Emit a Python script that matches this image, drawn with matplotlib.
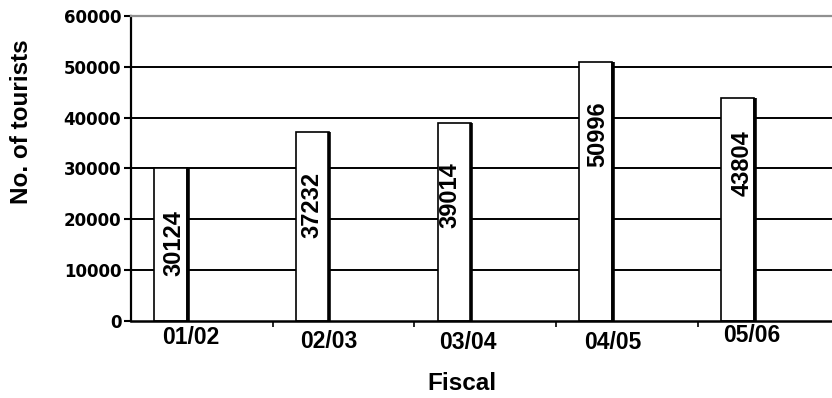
import matplotlib
matplotlib.use("Agg")
import matplotlib.pyplot as plt

# tourist arrivals per fiscal year
fiscal = ["01/02", "02/03", "03/04", "04/05", "05/06"]
tourists = [30124, 37232, 39014, 50996, 43804]
y_ticks = [0, 10000, 20000, 30000, 40000, 50000, 60000]

# label nudges in pixels (layout only)
tick_dx = [-11, -15, -17, -14, -17]
tick_dy = [-17, -21, -22, -22, -15]
val_dx = [3, 0, -4, 2, 5]
val_dy = [-42, -40, -40, -40, -32]

arial = "Liberation Sans"
dpi = 100
fig = plt.figure(figsize=(8.32, 3.98), dpi=dpi)
ax = fig.add_axes([131 / 832, 1 - 320.7 / 398, 708.5 / 832, (320.7 - 16) / 398])

xs = list(range(len(fiscal)))
bar_off = -0.22
bar_w = 0.233

ax.set_xlim(-0.5, len(fiscal) - 0.5)
ax.set_ylim(0, 60000)

# horizontal grid lines behind the bars
for v in y_ticks[1:-1]:
    ax.axhline(v, color="black", lw=1.4, zorder=1)

bx = [x + bar_off for x in xs]
ax.bar(bx, tourists, width=bar_w, color="white", edgecolor="black",
       linewidth=1.2, zorder=2)
# heavy shadow edge on the right side of each bar
ax.vlines([x + bar_w / 2 + 0.004 for x in bx], 0, tourists, color="black",
          lw=2.6, zorder=3)

for i, v in enumerate(tourists):
    ax.annotate(str(v), xy=(bx[i], v), xytext=(val_dx[i], val_dy[i]),
                textcoords="offset pixels", rotation=90, ha="center", va="top",
                fontsize=17, fontweight="bold", family=arial, zorder=4)

# spines
ax.spines["right"].set_visible(False)
ax.spines["top"].set_color("#909090")
ax.spines["top"].set_linewidth(1.6)
ax.spines["left"].set_linewidth(1.6)
ax.spines["bottom"].set_linewidth(1.8)

ax.set_yticks(y_ticks)
ax.set_yticklabels([str(t) for t in y_ticks], fontsize=12, fontweight="bold",
                   family="DejaVu Sans")
ax.tick_params(axis="y", length=5, width=1.5, pad=2)

# x ticks sit on the category boundaries
ax.set_xticks([x + 0.5 for x in xs[:-1]])
ax.set_xticklabels([])
ax.tick_params(axis="x", length=4, width=1.2, direction="out")

for i, lab in enumerate(fiscal):
    ax.annotate(lab, xy=(xs[i], 0), xytext=(tick_dx[i], tick_dy[i]),
                textcoords="offset pixels", ha="center", va="center",
                fontsize=16.5, fontweight="bold", family=arial,
                annotation_clip=False)

fig.text(461.5 / 832, 1 - 384 / 398, "Fiscal", ha="center", va="center",
         fontsize=17.5, fontweight="bold", family=arial)
fig.text(21.5 / 832, 1 - 121.5 / 398, "No. of tourists", ha="center",
         va="center", rotation=90, fontsize=17.5, fontweight="bold",
         family=arial)

fig.savefig("out.png", dpi=dpi)
